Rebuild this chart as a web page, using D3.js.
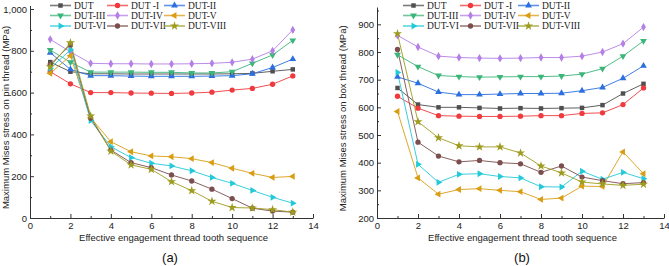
<!DOCTYPE html>
<html><head><meta charset="utf-8">
<script src="https://cdn.jsdelivr.net/npm/d3@7"></script>
<style>
body{margin:0;background:#fff;}
svg{display:block;}
</style></head>
<body>
<svg id="c" width="669" height="266"></svg>
<script>
const seqX = [1,2,3,4,5,6,7,8,9,10,11,12,13];
const seriesNames = ["DUT","DUT -I","DUT-II","DUT-III","DUT-IV","DUT-V","DUT-VI","DUT-VII","DUT-VIII"];
const seriesColors = ["#4f4f4f","#f03a3e","#2c6fe0","#3bb57a","#b47fe6","#d99d14","#22c9d8","#7c4e4e","#9e9c20"];
const seriesSymbols = ["square","circle","triUp","triDown","diamond","triLeft","triRight","circle","star"];

// (a) pin thread
const pinDUT   = [746,700,690,690,689,689,689,689,689,690,692,702,711];
const pinDUT1  = [700,642,600,600,598,597,596,598,602,612,620,640,680];
const pinDUT2  = [791,711,681,681,679,678,678,678,679,681,690,720,760];
const pinDUT3  = [804,745,698,698,698,697,697,694,694,700,740,780,850];
const pinDUT4  = [855,795,740,738,738,737,737,738,740,745,760,800,900];
const pinDUT5  = [692,776,480,365,317,297,293,284,265,238,214,194,199];
const pinDUT6  = [716,804,466,341,289,262,249,226,194,166,132,99,71];
const pinDUT7  = [735,828,477,325,265,241,206,177,138,93,47,33,28];
const pinDUT8  = [724,838,488,320,254,233,174,131,80,50,48,40,28];

// (b) box thread
const boxDUT   = [670,610,600,600,598,596,597,596,597,598,608,650,685];
const boxDUT1  = [640,597,570,568,567,567,568,570,570,578,580,610,670];
const boxDUT2  = [710,687,655,646,646,648,650,650,651,660,672,705,750];
const boxDUT3  = [790,747,715,711,709,710,711,711,713,720,740,785,840];
const boxDUT4  = [860,818,785,780,778,777,778,780,780,785,800,830,890];
const boxDUT5  = [585,345,286,303,306,300,295,267,272,315,314,439,360];
const boxDUT6  = [726,394,329,358,360,350,345,313,312,369,340,365,342];
const boxDUT7  = [809,474,424,403,408,400,396,365,388,348,335,324,328];
const boxDUT8  = [866,548,490,461,457,457,435,388,363,330,323,318,322];

const xTicks = [0,2,4,6,8,10,12,14];
const xMinor = [1,3,5,7,9,11,13];
const pinYTicks = [0,200,400,600,800,1000];
const pinYMinor = [100,300,500,700,900];
const boxYTicks = [200,300,400,500,600,700,800,900];
const boxYMinor = [250,350,450,550,650,750,850,950];

const pinSeries = [pinDUT,pinDUT1,pinDUT2,pinDUT3,pinDUT4,pinDUT5,pinDUT6,pinDUT7,pinDUT8];
const boxSeries = [boxDUT,boxDUT1,boxDUT2,boxDUT3,boxDUT4,boxDUT5,boxDUT6,boxDUT7,boxDUT8];

const svg = d3.select("#c");

function symbolPath(kind, size){
  const map = {square:d3.symbolSquare, circle:d3.symbolCircle, triUp:d3.symbolTriangle,
    triDown:d3.symbolTriangle, diamond:d3.symbolDiamond, triLeft:d3.symbolTriangle,
    triRight:d3.symbolTriangle, star:d3.symbolStar};
  return d3.symbol().type(map[kind]).size(size)();
}
function symbolRot(kind){
  return {triDown:180, triLeft:-90, triRight:90}[kind] || 0;
}
function symSize(k){ return k==="star"?26:(k==="circle"?22:20); }

function drawPanel(cfg){
  const g = svg.append("g");
  const x = d3.scaleLinear().domain([0,14]).range([cfg.x0,cfg.x1]);
  const y = d3.scaleLinear().domain(cfg.yDomain).range([cfg.yb,cfg.yt]);

  g.append("g").attr("transform",`translate(0,${cfg.yb})`)
    .call(d3.axisBottom(x).tickValues(xTicks).tickSizeInner(-4).tickSizeOuter(0).tickPadding(4));
  g.append("g").attr("transform",`translate(0,${cfg.yb})`)
    .call(d3.axisBottom(x).tickValues(xMinor).tickSizeInner(-2).tickSizeOuter(0).tickFormat(""))
    .select(".domain").remove();
  const ya = g.append("g").attr("transform",`translate(${cfg.x0},0)`)
    .call(d3.axisLeft(y).tickValues(cfg.yTicks).tickSizeInner(-4).tickSizeOuter(0).tickPadding(3));
  g.append("g").attr("transform",`translate(${cfg.x0},0)`)
    .call(d3.axisLeft(y).tickValues(cfg.yMinor).tickSizeInner(-2).tickSizeOuter(0).tickFormat(""))
    .select(".domain").remove();
  g.selectAll(".domain").attr("stroke","#333").attr("stroke-width",1);
  g.selectAll(".tick line").attr("stroke","#333");
  g.selectAll(".tick text").attr("font-family","Liberation Sans, Arial, sans-serif")
    .attr("font-size",9.5).attr("fill","#222");
  ya.select(".domain").attr("d",`M0.5,${cfg.yb}V${cfg.yt-3}`);

  g.append("text").attr("x",(cfg.x0+cfg.x1)/2 + 2).attr("y",cfg.yb+23)
    .attr("text-anchor","middle").attr("font-family","Liberation Sans, Arial, sans-serif")
    .attr("font-size",9.5).attr("fill","#222").text("Effective engagement thread tooth sequence");
  g.append("text").attr("transform",`translate(${cfg.ylabX},${(cfg.yb+cfg.yt)/2+4}) rotate(-90)`)
    .attr("text-anchor","middle").attr("font-family","Liberation Sans, Arial, sans-serif")
    .attr("font-size",9.5).attr("fill","#222").text(cfg.yTitle);
  g.append("text").attr("x",cfg.panelX).attr("y",262)
    .attr("text-anchor","middle").attr("font-family","Liberation Sans, Arial, sans-serif")
    .attr("font-size",13).attr("fill","#111").text(cfg.panel);

  const line = d3.line().x((d,i)=>x(seqX[i])).y(d=>y(d));
  cfg.series.forEach((vals,si)=>{
    g.append("path").datum(vals).attr("d",line).attr("fill","none")
      .attr("stroke",seriesColors[si]).attr("stroke-width",1).attr("stroke-opacity",0.9);
  });
  cfg.series.forEach((vals,si)=>{
    const k = seriesSymbols[si];
    g.selectAll(null).data(vals).enter().append("path")
      .attr("d",symbolPath(k, symSize(k)))
      .attr("transform",(d,i)=>`translate(${x(seqX[i])},${y(d)}) rotate(${symbolRot(k)})`)
      .attr("fill",seriesColors[si]);
  });

  const lg = g.append("g");
  seriesNames.forEach((nm,i)=>{
    const col = i%3, row = Math.floor(i/3);
    const lx = cfg.legX[col], ly = cfg.legY[row];
    lg.append("line").attr("x1",lx).attr("x2",lx+21).attr("y1",ly).attr("y2",ly)
      .attr("stroke",seriesColors[i]).attr("stroke-width",1.6).attr("stroke-opacity",0.75);
    const k = seriesSymbols[i];
    lg.append("path").attr("d",symbolPath(k, symSize(k)))
      .attr("transform",`translate(${lx+10.5},${ly}) rotate(${symbolRot(k)})`)
      .attr("fill",seriesColors[i]);
    lg.append("text").attr("x",lx+24).attr("y",ly+3.3)
      .attr("font-family","Liberation Serif, Times New Roman, serif").attr("font-size",9.5)
      .attr("fill","#222").text(nm);
  });
}

drawPanel({x0:30,x1:313,yb:218,yt:9,yDomain:[0,1000],yTicks:pinYTicks,yMinor:pinYMinor,
  series:pinSeries,ylabX:9,yTitle:"Maximum Mises stress on pin thread (MPa)",panel:"(a)",panelX:170,
  legX:[50,107,164],legY:[5.5,15.5,26]});
drawPanel({x0:377,x1:664,yb:218,yt:10.5,yDomain:[200,950],yTicks:boxYTicks,yMinor:boxYMinor,
  series:boxSeries,ylabX:346,yTitle:"Maximum Mises stress on box thread (MPa)",panel:"(b)",panelX:522,
  legX:[403,460,518],legY:[5.5,15.5,26]});
</script>
</body></html>
